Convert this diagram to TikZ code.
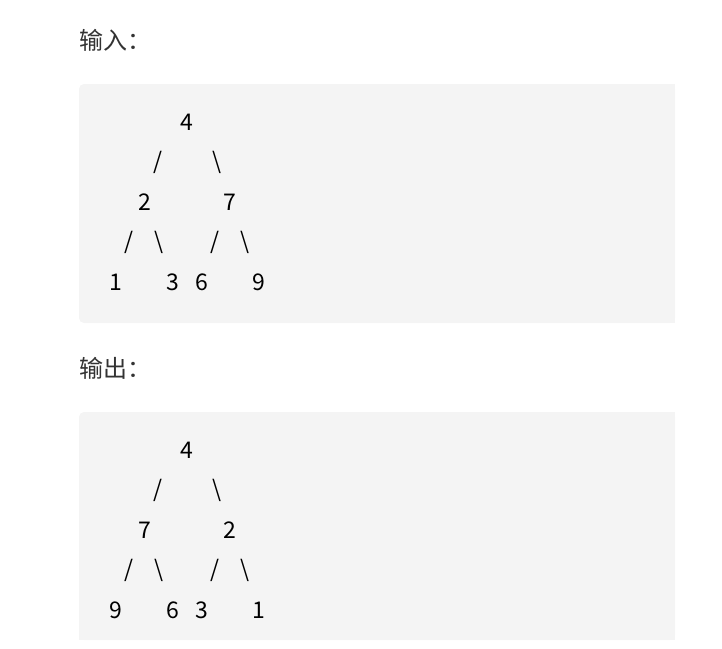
\documentclass[tikz,border=0pt]{standalone}
\usepackage{fontspec}
\newfontfamily\cjk{Noto Sans CJK SC}
\definecolor{codebg}{HTML}{F4F4F4}
\definecolor{lbltext}{HTML}{333333}

\begin{document}
\begin{tikzpicture}
        [x=1pt,y=-1pt,
        lbl/.style = {font=\cjk\fontsize{24}{24}\selectfont,
        text=lbltext, anchor=west, inner sep=0pt},
        num/.style = {font=\cjk\fontsize{23}{23}\selectfont,
        text=black, inner sep=0pt}]

        \useasboundingbox (0,0) rectangle (722,648);

        % Input
        \node[lbl] (in) at (79,40) {输入：};
        \fill[codebg,rounded corners=5pt] (79,84) rectangle (675,323);
        \fill[codebg] (300,84) rectangle (675,323);

        \node[num] (a4) at (187,122) {4};
        \node[num] (as1) at (158,162) {/};
        \node[num] (as2) at (217,162) {\textbackslash};
        \node[num] (a2) at (145,202) {2};
        \node[num] (a7) at (230,202) {7};
        \node[num] (as3) at (129,242) {/};
        \node[num] (as4) at (159,242) {\textbackslash};
        \node[num] (as5) at (215,242) {/};
        \node[num] (as6) at (245,242) {\textbackslash};
        \node[num] (a1) at (116,282) {1};
        \node[num] (a3) at (173,282) {3};
        \node[num] (a6) at (202,282) {6};
        \node[num] (a9) at (259,282) {9};

        % Output
        \node[lbl] (out) at (79,368) {输出：};
        \fill[codebg,rounded corners=5pt] (79,412) rectangle (675,640);
        \fill[codebg] (79,500) rectangle (675,640);
        \fill[codebg] (300,412) rectangle (675,640);

        \node[num] (b4) at (187,450) {4};
        \node[num] (bs1) at (158,490) {/};
        \node[num] (bs2) at (217,490) {\textbackslash};
        \node[num] (b7) at (145,530) {7};
        \node[num] (b2) at (230,530) {2};
        \node[num] (bs3) at (129,570) {/};
        \node[num] (bs4) at (159,570) {\textbackslash};
        \node[num] (bs5) at (215,570) {/};
        \node[num] (bs6) at (245,570) {\textbackslash};
        \node[num] (b9) at (116,610) {9};
        \node[num] (b6) at (173,610) {6};
        \node[num] (b3) at (202,610) {3};
        \node[num] (b1) at (259,610) {1};
    \end{tikzpicture}
\end{document}
